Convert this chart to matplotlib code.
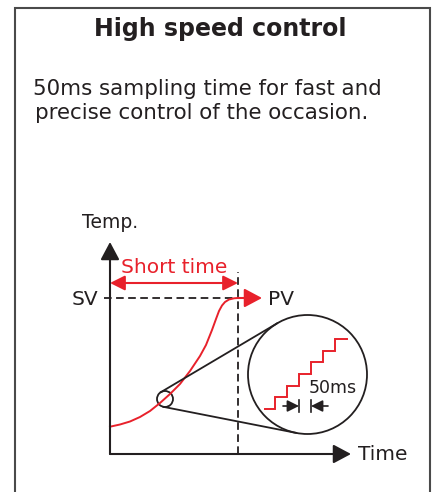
import numpy as np
import matplotlib
matplotlib.use("Agg")
import matplotlib.pyplot as plt
from matplotlib.patches import Circle

# ---- data (diagram units: 1 unit = 10 px) ----
title = "High speed control"
body_lines = ["50ms sampling time for fast and", "precise control of the occasion."]

pv_time = [0.0, 1.0, 2.0, 3.0, 4.0, 5.0, 6.0, 7.0, 8.0, 9.0, 9.6, 10.2, 10.6,
           10.9, 11.2, 11.5, 11.9, 12.4, 12.8]
pv_temp = [2.73, 2.95, 3.25, 3.7, 4.3, 5.1, 6.0, 7.0, 8.3, 9.8, 10.9, 12.4, 13.5,
           14.3, 14.85, 15.2, 15.45, 15.57, 15.6]

sv_level = 15.6
settle_time = 12.8
short_time_y = 17.1
pv_arrow_end = 15.2
x_axis_end = 24.1
y_axis_end = 21.2

zoom_small = (5.5, 5.5, 0.8)     # x, y, r
zoom_big = (19.75, 7.95, 5.95)

step_edges = [15.5, 16.5, 17.7, 18.9, 20.1, 21.3, 22.5, 23.7]
step_levels = [4.5, 5.7, 6.8, 8.0, 9.2, 10.3, 11.5]
sample_ticks = [18.9, 20.1]

RED = "#e8212b"
INK = "#231f20"

plt.rcParams['font.family'] = ['DejaVu Sans']
plt.rcParams['lines.scale_dashes'] = False

fig = plt.figure(figsize=(4.35, 4.92), dpi=100)
fig.patch.set_facecolor("white")

# background axes in pixel coordinates (frame + header text)
bg = fig.add_axes([0, 0, 1, 1])
bg.set_xlim(0, 435)
bg.set_ylim(492, 0)
bg.axis("off")
frame_x = [15, 15, 430, 430]
frame_y = [495, 7.5, 7.5, 495]
bg.plot(frame_x, frame_y, color="#4a4a4a", lw=1.5, solid_joinstyle="miter")

bg.text(220, 36, title, fontsize=17, fontweight="bold", color=INK, ha="center", va="baseline")
bg.text(33, 95, body_lines[0], fontsize=15.4, color=INK, ha="left", va="baseline")
bg.text(35, 119, body_lines[1], fontsize=15.4, color=INK, ha="left", va="baseline")

# diagram axes
ax = fig.add_axes([110 / 435, 38 / 492, 241 / 435, 212 / 492])
ax.set_xlim(0, x_axis_end)
ax.set_ylim(0, y_axis_end)
ax.axis("off")

big_head = dict(arrowstyle="-|>,head_length=0.6,head_width=0.32", mutation_scale=18,
                shrinkA=0, shrinkB=0, lw=1.5)
ax.annotate("", xy=(0, y_axis_end), xytext=(0, 0), annotation_clip=False,
            arrowprops=dict(color=INK, **big_head))
ax.annotate("", xy=(x_axis_end, 0), xytext=(0, 0), annotation_clip=False,
            arrowprops=dict(color=INK, **big_head))

ax.text(-2.8, 22.6, "Temp.", fontsize=13.5, color=INK, va="baseline", ha="left")
ax.text(24.8, -0.6, "Time", fontsize=14.5, color=INK, va="baseline", ha="left")
ax.text(-1.2, 14.9, "SV", fontsize=14.5, color=INK, va="baseline", ha="right")
ax.text(15.8, 14.9, "PV", fontsize=14.5, color=INK, va="baseline", ha="left")
ax.text(6.4, 18.1, "Short time", fontsize=14.5, color=RED, va="baseline", ha="center")

# dashed guides
ax.plot([-0.6, settle_time], [sv_level, sv_level], color=INK, lw=1.3,
        dashes=(5.5, 3.2), clip_on=False)
ax.plot([settle_time, settle_time], [0, 18.2], color=INK, lw=1.3,
        dashes=(5.5, 3.2), clip_on=False)

# short time arrow
ax.annotate("", xy=(settle_time, short_time_y), xytext=(0, short_time_y), annotation_clip=False,
            arrowprops=dict(arrowstyle="<|-|>,head_length=0.6,head_width=0.3", mutation_scale=15,
                            shrinkA=0, shrinkB=0, lw=1.5, color=RED))

# PV curve
ax.plot(pv_time, pv_temp, color=RED, lw=1.4, clip_on=False, solid_joinstyle="round")
ax.annotate("", xy=(pv_arrow_end, sv_level), xytext=(pv_time[-1], sv_level), annotation_clip=False,
            arrowprops=dict(color=RED, **big_head))

# zoom circles and tangent lines
x1, y1, r1 = zoom_small
x2, y2, r2 = zoom_big
ax.add_patch(Circle((x1, y1), r1, fill=False, ec=INK, lw=1.3, clip_on=False))
ax.add_patch(Circle((x2, y2), r2, fill=False, ec=INK, lw=1.3, clip_on=False))
d = np.hypot(x2 - x1, y2 - y1)
theta = np.arctan2(y2 - y1, x2 - x1)
for sgn in (1, -1):
    phi = theta + sgn * np.arccos((r1 - r2) / d)
    nx, ny = np.cos(phi), np.sin(phi)
    ax.plot([x1 + r1 * nx, x2 + r2 * nx], [y1 + r1 * ny, y2 + r2 * ny],
            color=INK, lw=1.3, clip_on=False)

# sampling staircase
sx, sy = [], []
for i, lvl in enumerate(step_levels):
    sx += [step_edges[i], step_edges[i + 1]]
    sy += [lvl, lvl]
ax.plot(sx, sy, color=RED, lw=1.4, clip_on=False, solid_joinstyle="miter")

# 50ms marker
for t in sample_ticks:
    ax.plot([t, t], [4.2, 5.4], color=INK, lw=1.2, clip_on=False)
small_head = dict(arrowstyle="-|>,head_length=0.5,head_width=0.25", mutation_scale=14,
                  shrinkA=0, shrinkB=0, lw=1.2, color=INK)
ax.annotate("", xy=(sample_ticks[0], 4.8), xytext=(17.3, 4.8), annotation_clip=False,
            arrowprops=small_head)
ax.annotate("", xy=(sample_ticks[1], 4.8), xytext=(21.8, 4.8), annotation_clip=False,
            arrowprops=small_head)
ax.text(19.9, 6.1, "50ms", fontsize=12.5, color=INK, va="baseline", ha="left")

fig.savefig("out.png", dpi=100, facecolor="white")
